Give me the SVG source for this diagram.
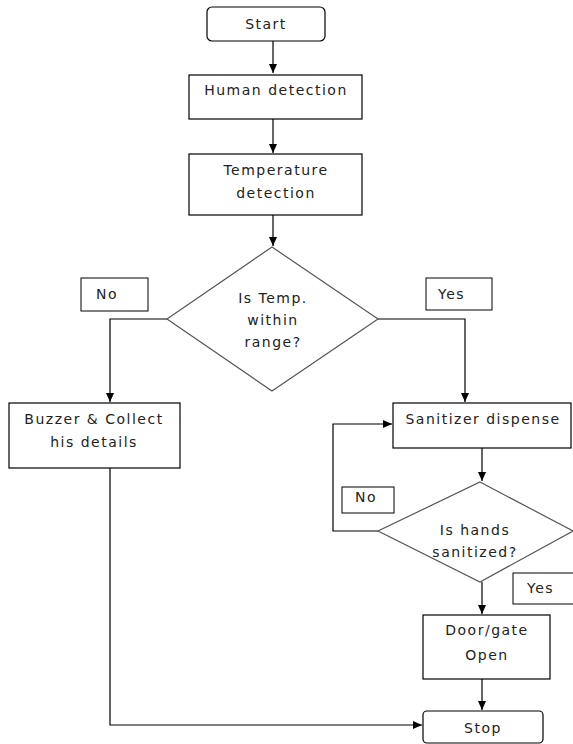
<svg xmlns="http://www.w3.org/2000/svg" width="573" height="744" viewBox="0 0 573 744">
<defs>
<marker id="ah" markerWidth="10" markerHeight="10" refX="9" refY="5" orient="auto" markerUnits="userSpaceOnUse">
<path d="M0,1 L9,5 L0,9 Z" fill="#000"/>
</marker>
<style>
.box{fill:#fff;stroke:#000;stroke-width:1.2}
.dia{fill:#fff;stroke:#555;stroke-width:1.2}
.lbl{fill:#fff;stroke:#000;stroke-width:1}
.t{font-family:"DejaVu Sans",Verdana,sans-serif;font-size:14px;fill:#222;letter-spacing:1.5px}
.c{text-anchor:middle}
.ln{fill:none;stroke:#000;stroke-width:1.2}
</style>
</defs>
<rect width="573" height="744" fill="#fff"/>
<g id="connectors">
<path class="ln" d="M273,41 V73" marker-end="url(#ah)"/>
<path class="ln" d="M273,119 V153" marker-end="url(#ah)"/>
<path class="ln" d="M273,215 V246" marker-end="url(#ah)"/>
<path class="ln" d="M167,319 H110 V402" marker-end="url(#ah)"/>
<path class="ln" d="M378,319 H465 V402" marker-end="url(#ah)"/>
<path class="ln" d="M482,448 V481" marker-end="url(#ah)"/>
<path class="ln" d="M378,531 H333 V424 H392" marker-end="url(#ah)"/>
<path class="ln" d="M482,582 V614" marker-end="url(#ah)"/>
<path class="ln" d="M482,679 V710" marker-end="url(#ah)"/>
<path class="ln" d="M110,468 V725 H422" marker-end="url(#ah)"/>
</g>
<g id="start">
<rect class="box" x="207" y="7" width="118" height="34" rx="5"/>
<text class="t c" x="266" y="29">Start</text>
</g>
<g id="human">
<rect class="box" x="189" y="75" width="173" height="44"/>
<text class="t c" x="276" y="95">Human detection</text>
</g>
<g id="temp">
<rect class="box" x="189" y="154" width="173" height="61"/>
<text class="t c" x="276" y="175">Temperature</text>
<text class="t c" x="276" y="198">detection</text>
</g>
<g id="decision1">
<polygon class="dia" points="272,247 378,319 272,391 167,319"/>
<text class="t c" x="273" y="303">Is Temp.</text>
<text class="t c" x="273" y="325">within</text>
<text class="t c" x="273" y="347">range?</text>
</g>
<g id="no1">
<rect class="lbl" x="81" y="278" width="67" height="33"/>
<text class="t" x="96" y="299">No</text>
</g>
<g id="yes1">
<rect class="lbl" x="426" y="278" width="66" height="32"/>
<text class="t" x="438" y="299">Yes</text>
</g>
<g id="buzzer">
<rect class="box" x="9" y="403" width="171" height="65"/>
<text class="t c" x="94" y="424">Buzzer &amp; Collect</text>
<text class="t c" x="94" y="447">his details</text>
</g>
<g id="sanitizer">
<rect class="box" x="393" y="403" width="178" height="45"/>
<text class="t c" x="483" y="424">Sanitizer dispense</text>
</g>
<g id="decision2">
<polygon class="dia" points="480,482 573,531 480,582 378,531"/>
<text class="t c" x="475" y="535">Is hands</text>
<text class="t c" x="475" y="557">sanitized?</text>
</g>
<g id="no2">
<rect class="lbl" x="342" y="487" width="52" height="26"/>
<text class="t" x="355" y="502">No</text>
</g>
<g id="yes2">
<rect class="lbl" x="513" y="573" width="62" height="31"/>
<text class="t" x="527" y="593">Yes</text>
</g>
<g id="door">
<rect class="box" x="423" y="615" width="127" height="64"/>
<text class="t c" x="487" y="635">Door/gate</text>
<text class="t c" x="487" y="660">Open</text>
</g>
<g id="stop">
<rect class="box" x="423" y="711" width="120" height="32" rx="4"/>
<text class="t c" x="483" y="733">Stop</text>
</g>
</svg>
